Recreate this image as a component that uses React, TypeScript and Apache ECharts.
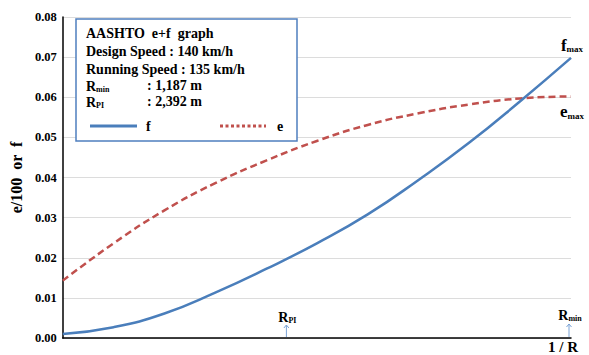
import React, { useEffect, useRef } from "react";
import * as echarts from "echarts";

// normalized 1/R position (0 = tangent, 1 = 1/Rmin)
const xPos = [0, 0.1, 0.2, 0.3, 0.4, 0.5, 0.6, 0.7, 0.8, 0.9, 1];
const fValues = [0.001, 0.0027, 0.0061, 0.0113, 0.0172, 0.0236, 0.0308, 0.0394, 0.0487, 0.059, 0.0698];
const eValues = [0.0143, 0.0236, 0.0318, 0.0386, 0.0442, 0.0491, 0.0531, 0.056, 0.0582, 0.0597, 0.0602];

const rPiX = 0.44;
const rMinX = 1;

const legendLines = ["AASHTO  e+f  graph", "Design Speed : 140 km/h", "Running Speed : 135 km/h"];
const rMinText = ": 1,187 m";
const rPiText = ": 2,392 m";
const yAxisName = "e/100  or  f";
const xAxisName = "1 / R";

const FONT = "Liberation Serif";
const BLUE = "#4a7ebb";
const RED = "#c0504d";

export default function App() {
  const ref = useRef<HTMLDivElement>(null);
  useEffect(() => {
    const chart = echarts.init(ref.current!, null, { renderer: "svg" });
    chart.setOption({
      animation: false,
      textStyle: { fontFamily: FONT },
      grid: { left: 61, right: 18, top: 17, bottom: 17 },
      xAxis: {
        type: "value",
        min: 0,
        max: 1,
        axisLine: { lineStyle: { color: "#000", width: 1.5 } },
        axisTick: { show: false },
        axisLabel: { show: false },
        splitLine: { show: false },
      },
      yAxis: {
        type: "value",
        min: 0,
        max: 0.08,
        interval: 0.01,
        name: yAxisName,
        nameLocation: "middle",
        nameGap: 31,
        nameTextStyle: { fontFamily: FONT, fontWeight: "bold", fontSize: 16, color: "#000" },
        axisLine: { show: true, lineStyle: { color: "#000", width: 1.5 } },
        axisTick: { show: false },
        axisLabel: {
          formatter: (v: number) => v.toFixed(2),
          fontFamily: FONT,
          fontWeight: "bold",
          fontSize: 12.5,
          color: "#000",
          margin: 6,
        },
        splitLine: { lineStyle: { color: "#dcdcdc", width: 1 } },
      },
      series: [
        {
          type: "line",
          name: "f",
          smooth: true,
          showSymbol: false,
          data: xPos.map((x, i) => [x, fValues[i]]),
          lineStyle: { color: BLUE, width: 2.5 },
          z: 3,
        },
        {
          type: "line",
          name: "e",
          smooth: true,
          showSymbol: false,
          data: xPos.map((x, i) => [x, eValues[i]]),
          lineStyle: { color: RED, width: 2.5, type: [7, 4] },
          z: 2,
        },
      ],
    });

    const px = (x: number, y: number) => chart.convertToPixel({ gridIndex: 0 }, [x, y]) as number[];
    const pPi = px(rPiX, 0);
    const pMin = px(rMinX, 0);
    const pF = px(xPos[xPos.length - 1], fValues[fValues.length - 1]);
    const pE = px(xPos[xPos.length - 1], eValues[eValues.length - 1]);

    const rich = {
      b: { fontFamily: FONT, fontWeight: "bold", fontSize: 14, color: "#000", verticalAlign: "bottom", lineHeight: 16 },
      s: { fontFamily: FONT, fontWeight: "bold", fontSize: 8, color: "#000", verticalAlign: "bottom", lineHeight: 13 },
      bb: { fontFamily: FONT, fontWeight: "bold", fontSize: 17, color: "#000", verticalAlign: "bottom", lineHeight: 18 },
      ss: { fontFamily: FONT, fontWeight: "bold", fontSize: 9, color: "#000", verticalAlign: "bottom", lineHeight: 14 },
    };
    const txt = (x: number, y: number, text: string, extra: any = {}) => ({
      type: "text",
      x,
      y,
      z: 20,
      style: {
        text,
        fontFamily: FONT,
        fontWeight: "bold",
        fontSize: 14,
        fill: "#000",
        verticalAlign: "middle",
        rich,
        ...extra,
      },
    });

    const lx = 86;
    chart.setOption({
      graphic: [
        {
          type: "rect",
          z: 10,
          shape: { x: 76, y: 19, width: 221, height: 122 },
          style: { fill: "#fff", stroke: "#4f7fbf", lineWidth: 1.5 },
        },
        txt(lx, 33, legendLines[0]),
        txt(lx, 51, legendLines[1]),
        txt(lx, 69, legendLines[2]),
        txt(lx, 85, "{b|R}{s|min}"),
        txt(147, 85, rMinText),
        txt(lx, 101, "{b|R}{s|PI}"),
        txt(147, 101, rPiText),
        {
          type: "line",
          z: 20,
          shape: { x1: 90, y1: 126, x2: 137, y2: 126 },
          style: { stroke: BLUE, lineWidth: 3 },
        },
        txt(146, 126, "f"),
        {
          type: "line",
          z: 20,
          shape: { x1: 220, y1: 126, x2: 266, y2: 126 },
          style: { stroke: RED, lineWidth: 3, lineDash: [3, 2.5] },
        },
        txt(277, 126, "e"),
        // f max / e max
        txt(pF[0] + 1, pF[1] - 13, "{bb|f}{ss|max}", { align: "center" }),
        txt(pE[0] + 1, pE[1] + 15, "{bb|e}{ss|max}", { align: "center" }),
        // R_PI marker
        txt(pPi[0] + 1, pPi[1] - 22, "{b|R}{s|PI}", { align: "center" }),
        {
          type: "line",
          z: 20,
          shape: { x1: pPi[0], y1: pPi[1] - 1, x2: pPi[0], y2: pPi[1] - 13 },
          style: { stroke: "#7aa3d6", lineWidth: 1 },
        },
        {
          type: "polyline",
          z: 20,
          shape: { points: [[pPi[0] - 2.5, pPi[1] - 10], [pPi[0], pPi[1] - 13], [pPi[0] + 2.5, pPi[1] - 10]] },
          style: { stroke: "#7aa3d6", lineWidth: 1, fill: "none" },
        },
        // R_min marker
        txt(pMin[0] - 1, pMin[1] - 24, "{b|R}{s|min}", { align: "center" }),
        {
          type: "line",
          z: 20,
          shape: { x1: pMin[0] - 2, y1: pMin[1] - 1, x2: pMin[0] - 2, y2: pMin[1] - 14 },
          style: { stroke: "#7aa3d6", lineWidth: 1 },
        },
        {
          type: "polyline",
          z: 20,
          shape: { points: [[pMin[0] - 4.5, pMin[1] - 11], [pMin[0] - 2, pMin[1] - 14], [pMin[0] + 0.5, pMin[1] - 11]] },
          style: { stroke: "#7aa3d6", lineWidth: 1, fill: "none" },
        },
        txt(pMin[0] - 8, pMin[1] + 9, xAxisName, { align: "center", fontSize: 15 }),
      ],
    });

    return () => chart.dispose();
  }, []);
  return <div ref={ref} style={{ position: "fixed", left: 0, top: 0, width: 589, height: 355, background: "#fff" }} />;
}
